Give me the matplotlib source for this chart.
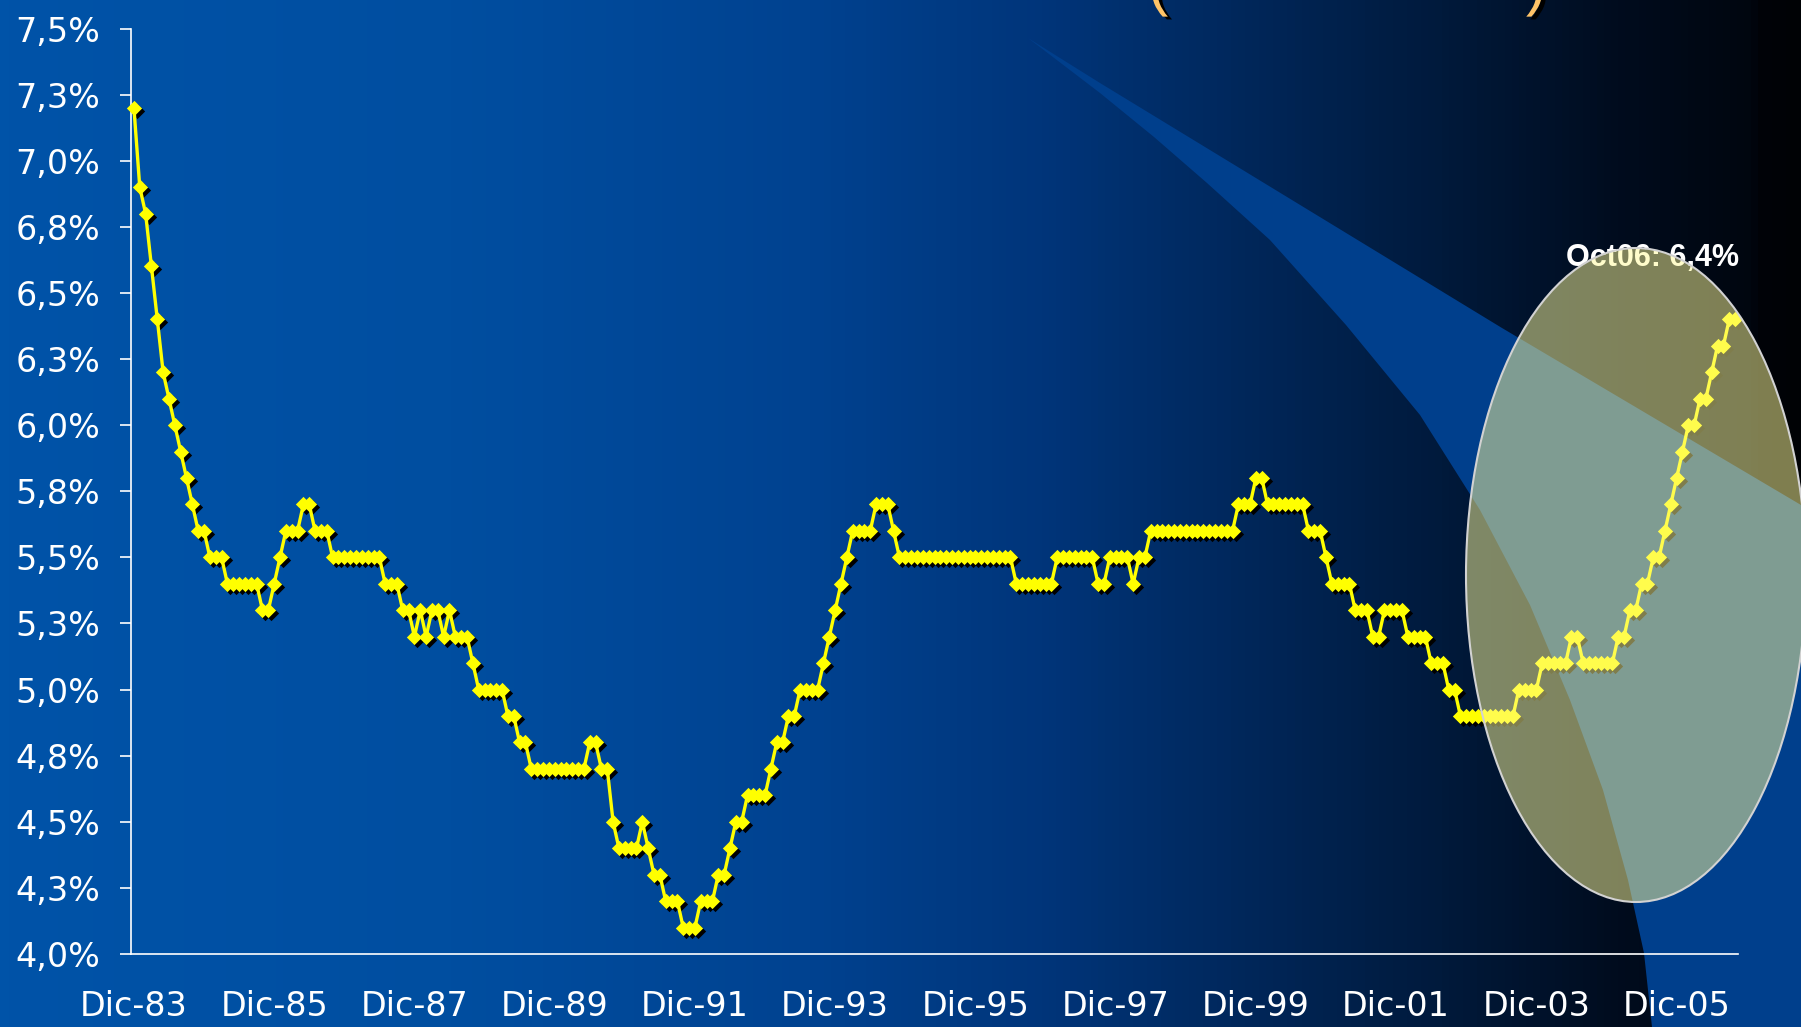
import matplotlib
matplotlib.use("Agg")

import matplotlib.patheffects as pe
import matplotlib.pyplot as plt
import numpy as np
from matplotlib.colors import LinearSegmentedColormap
from matplotlib.patches import Ellipse, Polygon
from matplotlib.transforms import offset_copy

plt.rcParams["font.family"] = ["Liberation Sans", "DejaVu Sans"]

W, H = 1801, 1027  # output size in pixels (dpi 100)

# monthly rate in %, Dic-83 .. Oct-06 -- one row per year, each row starts in December
RATE = [
    7.2, 6.9, 6.8, 6.6, 6.4, 6.2, 6.1, 6.0, 5.9, 5.8, 5.7, 5.6,
    5.6, 5.5, 5.5, 5.5, 5.4, 5.4, 5.4, 5.4, 5.4, 5.4, 5.3, 5.3,
    5.4, 5.5, 5.6, 5.6, 5.6, 5.7, 5.7, 5.6, 5.6, 5.6, 5.5, 5.5,
    5.5, 5.5, 5.5, 5.5, 5.5, 5.5, 5.5, 5.4, 5.4, 5.4, 5.3, 5.3,
    5.2, 5.3, 5.2, 5.3, 5.3, 5.2, 5.3, 5.2, 5.2, 5.2, 5.1, 5.0,
    5.0, 5.0, 5.0, 5.0, 4.9, 4.9, 4.8, 4.8, 4.7, 4.7, 4.7, 4.7,
    4.7, 4.7, 4.7, 4.7, 4.7, 4.7, 4.8, 4.8, 4.7, 4.7, 4.5, 4.4,
    4.4, 4.4, 4.4, 4.5, 4.4, 4.3, 4.3, 4.2, 4.2, 4.2, 4.1, 4.1,
    4.1, 4.2, 4.2, 4.2, 4.3, 4.3, 4.4, 4.5, 4.5, 4.6, 4.6, 4.6,
    4.6, 4.7, 4.8, 4.8, 4.9, 4.9, 5.0, 5.0, 5.0, 5.0, 5.1, 5.2,
    5.3, 5.4, 5.5, 5.6, 5.6, 5.6, 5.6, 5.7, 5.7, 5.7, 5.6, 5.5,
    5.5, 5.5, 5.5, 5.5, 5.5, 5.5, 5.5, 5.5, 5.5, 5.5, 5.5, 5.5,
    5.5, 5.5, 5.5, 5.5, 5.5, 5.5, 5.5, 5.4, 5.4, 5.4, 5.4, 5.4,
    5.4, 5.4, 5.5, 5.5, 5.5, 5.5, 5.5, 5.5, 5.5, 5.4, 5.4, 5.5,
    5.5, 5.5, 5.5, 5.4, 5.5, 5.5, 5.6, 5.6, 5.6, 5.6, 5.6, 5.6,
    5.6, 5.6, 5.6, 5.6, 5.6, 5.6, 5.6, 5.6, 5.6, 5.7, 5.7, 5.7,
    5.8, 5.8, 5.7, 5.7, 5.7, 5.7, 5.7, 5.7, 5.7, 5.6, 5.6, 5.6,
    5.5, 5.4, 5.4, 5.4, 5.4, 5.3, 5.3, 5.3, 5.2, 5.2, 5.3, 5.3,
    5.3, 5.3, 5.2, 5.2, 5.2, 5.2, 5.1, 5.1, 5.1, 5.0, 5.0, 4.9,
    4.9, 4.9, 4.9, 4.9, 4.9, 4.9, 4.9, 4.9, 4.9, 5.0, 5.0, 5.0,
    5.0, 5.1, 5.1, 5.1, 5.1, 5.1, 5.2, 5.2, 5.1, 5.1, 5.1, 5.1,
    5.1, 5.1, 5.2, 5.2, 5.3, 5.3, 5.4, 5.4, 5.5, 5.5, 5.6, 5.7,
    5.8, 5.9, 6.0, 6.0, 6.1, 6.1, 6.2, 6.3, 6.3, 6.4, 6.4,
]
XTICK_LABELS = ["Dic-83", "Dic-85", "Dic-87", "Dic-89", "Dic-91", "Dic-93",
                "Dic-95", "Dic-97", "Dic-99", "Dic-01", "Dic-03", "Dic-05"]
XTICK_STEP = 24  # one label every two years of monthly points
YTICKS = [4.0, 4.25, 4.5, 4.75, 5.0, 5.25, 5.5, 5.75, 6.0, 6.25, 6.5, 6.75, 7.0, 7.25, 7.5]
YTICK_LABELS = ["4,0%", "4,3%", "4,5%", "4,8%", "5,0%", "5,3%", "5,5%", "5,8%",
                "6,0%", "6,3%", "6,5%", "6,8%", "7,0%", "7,3%", "7,5%"]
LAST_LABEL = "Oct06: 6,4%"

# slide background: horizontal blue -> black gradient
BG_STOPS = [(0.0, "#0053a8"), (0.25, "#004ea0"), (0.45, "#004290"), (0.58, "#00357a"),
            (0.70, "#002658"), (0.80, "#001a3c"), (0.90, "#000c1e"), (0.975, "#00060f"),
            (0.98, "#000208"), (1.0, "#000205")]
# lighter blue swoosh, in figure pixels (y down)
SWOOSH_TOP = [(1028, 38), (1100, 83), (1502, 328), (1801, 505)]
SWOOSH_LOW = [(1028, 38), (1100, 93), (1154, 137), (1207, 183), (1270, 240), (1346, 325),
              (1420, 415), (1480, 510), (1530, 605), (1570, 700), (1603, 790),
              (1628, 880), (1644, 953), (1652, 1027)]

TICK_FONT = ["DejaVu Sans"]  # wide glyphs, closest to the stretched Arial of the slide

fig = plt.figure(figsize=(W / 100, H / 100), dpi=100)

# --- background layer
bg = fig.add_axes([0, 0, 1, 1], zorder=0)
bg.set_xlim(0, W); bg.set_ylim(H, 0); bg.axis("off")
cmap = LinearSegmentedColormap.from_list("slide", BG_STOPS)
bg.imshow(np.linspace(0, 1, 600)[None, :], cmap=cmap, aspect="auto",
          extent=(0, W, H, 0), interpolation="bilinear")
band = SWOOSH_TOP + [(W, H)] + SWOOSH_LOW[::-1]
bg.add_patch(Polygon(band, closed=True, facecolor="#003f8c", edgecolor="none"))
bg.text(1652, 258, LAST_LABEL, ha="center", va="center", color="white",
        fontsize=22, fontweight="bold")

# --- the chart
ax = fig.add_axes([131 / W, (H - 954) / H, (1738 - 131) / W, (954 - 28.5) / H], zorder=1)
ax.patch.set_alpha(0)
x = np.arange(len(RATE))
diamond = [(-1, 0), (0, 1), (1, 0), (0, -1)]
shadow = offset_copy(ax.transData, fig=fig, x=3, y=-3, units="dots")
ax.plot(x, RATE, ls="none", marker=diamond, ms=11, mew=0, color="black",
        transform=shadow, zorder=2, clip_on=False)
ax.plot(x, RATE, color="#ffff00", lw=2.4, zorder=3, clip_on=False)
ax.plot(x, RATE, ls="none", marker=diamond, ms=11, mew=0, color="#ffff00",
        zorder=4, clip_on=False)

ax.set_xlim(-0.5, len(RATE) - 0.5)
ax.set_ylim(YTICKS[0], YTICKS[-1])
ax.set_xticks(np.arange(len(XTICK_LABELS)) * XTICK_STEP)
ax.set_xticklabels(XTICK_LABELS, family=TICK_FONT)
ax.set_yticks(YTICKS)
ax.set_yticklabels(YTICK_LABELS, family=TICK_FONT)
ax.tick_params(axis="x", length=0, pad=26, labelsize=24, labelcolor="white")
ax.tick_params(axis="y", length=8, width=1.2, pad=14, direction="out",
               color="white", labelsize=24, labelcolor="white")
for side in ("top", "right"):
    ax.spines[side].set_visible(False)
for side in ("left", "bottom"):
    ax.spines[side].set_color("white")
    ax.spines[side].set_linewidth(1.2)

# --- overlay: highlight ellipse and the title brackets cut by the slide edge
top = fig.add_axes([0, 0, 1, 1], zorder=2)
top.set_xlim(0, W); top.set_ylim(H, 0); top.axis("off")
top.add_patch(Ellipse((1636, 575), 340, 654, facecolor=(1.0, 0.98, 0.6, 0.5),
                      edgecolor="#d2d2d2", lw=1.5))
bracket_shadow = [pe.SimplePatchShadow(offset=(3, -2), shadow_rgbFace="black", alpha=1.0),
                  pe.Normal()]
for bx, s in ((1158, "("), (1536, ")")):
    top.text(bx, 17, s, ha="center", va="bottom", fontsize=44, color="#ffc468",
             path_effects=bracket_shadow)

fig.savefig("out.png", dpi=100)
